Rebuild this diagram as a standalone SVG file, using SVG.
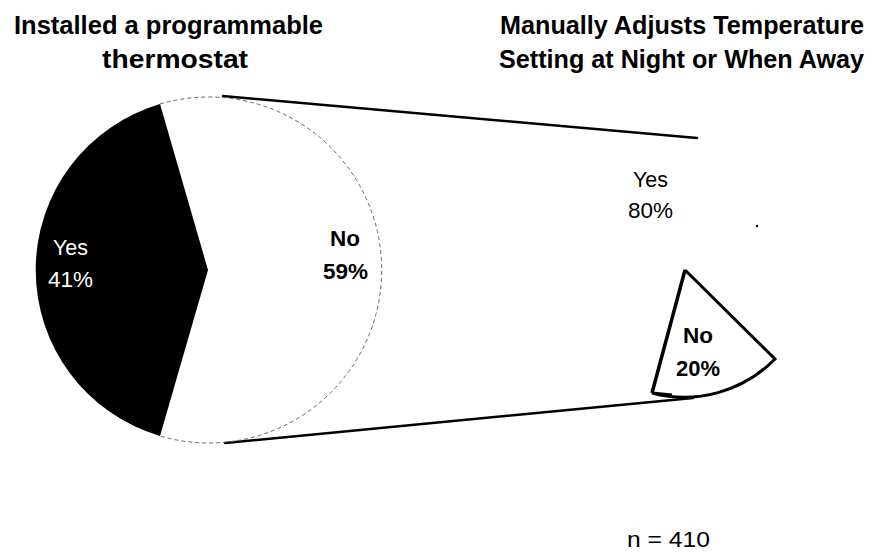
<svg xmlns="http://www.w3.org/2000/svg" width="875" height="554" viewBox="0 0 875 554">
  <style>
    text { font-family: "Liberation Sans", Arial, sans-serif; fill: #000; }
    .title { font-size: 25px; font-weight: bold; }
    .lbl { font-size: 22px; }
    .bold { font-weight: bold; }
    .white { fill: #fff; }
    .conn { stroke: #000; stroke-width: 2.5; fill: none; stroke-linecap: round; }
    .faint { stroke: #666; stroke-width: 1; stroke-dasharray: 4 3; fill: none; }
  </style>
  <rect width="875" height="554" fill="#fff"/>

  <g id="title-left">
    <text class="title" x="14" y="34" textLength="309" lengthAdjust="spacingAndGlyphs">Installed a programmable</text>
    <text class="title" x="102" y="68" textLength="146" lengthAdjust="spacingAndGlyphs">thermostat</text>
  </g>
  <g id="title-right">
    <text class="title" x="500" y="34" textLength="364" lengthAdjust="spacingAndGlyphs">Manually Adjusts Temperature</text>
    <text class="title" x="499" y="68" textLength="365" lengthAdjust="spacingAndGlyphs">Setting at Night or When Away</text>
  </g>

  <g id="connectors">
    <line class="conn" x1="223" y1="96" x2="697" y2="138"/>
    <line class="conn" x1="225" y1="443" x2="693" y2="398"/>
  </g>

  <g id="pie-left-yes">
    <path d="M208,270 L160,104 A173,173 0 0 0 160,436 Z" fill="#000"/>
    <text class="lbl white" x="53" y="255" textLength="35" lengthAdjust="spacingAndGlyphs">Yes</text>
    <text class="lbl white" x="48" y="287" textLength="45" lengthAdjust="spacingAndGlyphs">41%</text>
  </g>
  <g id="pie-left-no">
    <path class="faint" d="M160,104 A173,173 0 1 1 160,436"/>
    <text class="lbl bold" x="330" y="246" textLength="30" lengthAdjust="spacingAndGlyphs">No</text>
    <text class="lbl bold" x="323" y="279" textLength="45" lengthAdjust="spacingAndGlyphs">59%</text>
  </g>

  <g id="pie-right-yes">
    <text class="lbl" x="633" y="187" textLength="35" lengthAdjust="spacingAndGlyphs">Yes</text>
    <text class="lbl" x="628" y="218" textLength="45" lengthAdjust="spacingAndGlyphs">80%</text>
    <circle cx="757" cy="226" r="1.2" fill="#000"/>
  </g>
  <g id="pie-right-no">
    <path d="M685,270 L775,359 A127,127 0 0 1 652,393 L672,395" fill="#fff" stroke="#000" stroke-width="3" stroke-linejoin="miter"/>
    <path d="M652,393 L685,270" stroke="#000" stroke-width="3.5" fill="none"/>
    <text class="lbl bold" x="683" y="343" textLength="30" lengthAdjust="spacingAndGlyphs">No</text>
    <text class="lbl bold" x="676" y="376" textLength="44" lengthAdjust="spacingAndGlyphs">20%</text>
  </g>

  <g id="sample-size">
    <text class="lbl" x="627" y="547" textLength="83" lengthAdjust="spacingAndGlyphs">n = 410</text>
  </g>
</svg>
